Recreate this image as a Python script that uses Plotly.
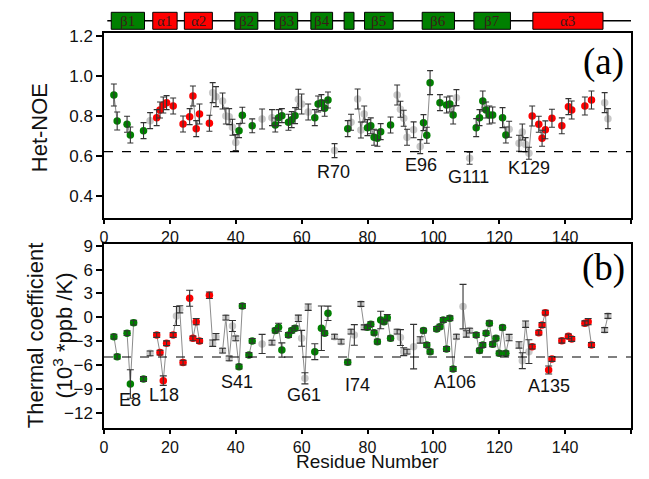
import plotly.graph_objects as go

# ---------------- data ----------------
# panel (a): heteronuclear NOE
noe_res = [3, 4, 7, 8, 12, 14, 16, 17, 18, 19, 21, 24, 26, 27, 28, 29, 32, 33, 34, 36,
           37, 38, 39, 40, 41, 42, 45, 48, 51, 52, 53, 54, 56, 57, 58, 59, 60, 62, 64, 65,
           66, 67, 68, 70, 74, 75, 77, 78, 79, 80, 81, 82, 83, 84, 87, 89, 90, 91, 92, 94,
           96, 97, 98, 99, 102, 104, 105, 106, 107, 111, 113, 114, 115, 116, 117, 118, 121, 122, 123, 126,
           127, 128, 129, 130, 132, 133, 134, 136, 139, 141, 142, 146, 148, 152, 153]
noe_val = [0.903, 0.773, 0.757, 0.703, 0.725, 0.775, 0.790, 0.828, 0.853, 0.865, 0.848, 0.758, 0.795, 0.898, 0.735, 0.808, 0.762, 0.915, 0.895, 0.873,
           0.798, 0.795, 0.742, 0.665, 0.725, 0.802, 0.749, 0.783, 0.790, 0.753, 0.790, 0.800, 0.767, 0.780, 0.800, 0.882, 0.858, 0.818, 0.790, 0.858,
           0.865, 0.837, 0.878, 0.625, 0.735, 0.767, 0.883, 0.728, 0.808, 0.740, 0.749, 0.692, 0.687, 0.720, 0.753, 0.903, 0.832, 0.787, 0.692, 0.729,
           0.645, 0.765, 0.702, 0.965, 0.865, 0.853, 0.858, 0.803, 0.890, 0.587, 0.740, 0.790, 0.873, 0.828, 0.803, 0.803, 0.790, 0.703, 0.732, 0.662,
           0.718, 0.655, 0.612, 0.798, 0.757, 0.687, 0.729, 0.787, 0.749, 0.845, 0.828, 0.848, 0.878, 0.865, 0.785]
noe_err = [0.055, 0.045, 0.040, 0.040, 0.040, 0.040, 0.040, 0.040, 0.040, 0.035, 0.040, 0.040, 0.040, 0.050, 0.040, 0.050, 0.040, 0.050, 0.050, 0.040,
           0.040, 0.040, 0.040, 0.040, 0.035, 0.040, 0.035, 0.050, 0.040, 0.035, 0.040, 0.035, 0.040, 0.040, 0.040, 0.050, 0.050, 0.040, 0.040, 0.040,
           0.040, 0.040, 0.040, 0.035, 0.040, 0.040, 0.050, 0.040, 0.040, 0.040, 0.040, 0.040, 0.040, 0.040, 0.040, 0.050, 0.040, 0.040, 0.040, 0.040,
           0.035, 0.040, 0.040, 0.060, 0.040, 0.040, 0.040, 0.045, 0.040, 0.030, 0.045, 0.040, 0.050, 0.040, 0.045, 0.040, 0.050, 0.040, 0.040, 0.040,
           0.040, 0.035, 0.030, 0.050, 0.040, 0.040, 0.045, 0.045, 0.040, 0.040, 0.045, 0.045, 0.045, 0.050, 0.050]
# b = beta strand (green), a = helix (red), c = other (grey); one letter per point
noe_ss = list("bbbbb" "c" "aaaaaaaaaaa" "ccccccc" "bbb" "cc" "bbbbbb" "ccc" "bbbbb" "c"
              "b" "cccc" "bbbbbb" "cccccc" "bbbbbbb" "cc" "bbbbbbbb" "ccccc"
              "aaaaaaaaaa" "cc")

# panel (b): amide temperature coefficients
tc_res = [3, 4, 7, 8, 9, 12, 14, 16, 17, 18, 19, 21, 22, 23, 24, 26, 27, 28, 29, 32,
          33, 34, 36, 37, 38, 39, 40, 41, 42, 44, 45, 48, 51, 52, 53, 54, 56, 57, 58, 59,
          60, 61, 62, 64, 66, 67, 68, 70, 72, 74, 75, 76, 78, 79, 80, 81, 82, 83, 84, 85,
          86, 87, 89, 90, 91, 92, 94, 96, 97, 98, 99, 101, 102, 103, 104, 105, 106, 107, 109, 110,
          111, 113, 114, 115, 116, 117, 118, 119, 120, 121, 122, 123, 126, 127, 128, 129, 130, 132, 133, 134,
          135, 136, 139, 141, 142, 146, 147, 148, 152, 153]
tc_val = [-2.44, -4.96, -2.00, -8.40, -0.68, -7.77, -4.54, -2.23, -4.45, -7.98, -3.27, -2.23, 0.16, 1.00, -5.71, 2.39, -2.65, -0.55, -2.98, 2.77,
          -3.27, -2.44, -4.20, -0.05, -5.17, -1.10, -2.65, -6.22, 1.42, -4.75, -2.98, -3.36, -3.19, -1.68, -1.26, -4.12, -2.23, -1.68, -1.39, -0.13,
          -2.65, -7.68, 1.26, -4.33, -1.39, -2.00, 0.50, -2.44, -3.07, -5.67, -1.81, -2.23, 1.67, -1.26, -1.26, -0.87, -1.94, -3.07, -0.34, -0.55,
          -0.05, -2.65, -1.81, -2.56, -4.33, -4.33, -3.70, -2.86, -1.68, -3.49, -4.33, -1.47, -1.18, -0.34, -3.99, -0.13, -6.51, -2.44, 1.34, -2.10,
          -1.68, -2.23, -4.20, -3.49, -2.00, -0.76, -3.40, -2.65, -4.54, -1.30, -4.54, -2.56, -3.49, -5.46, -0.88, -4.33, -3.70, -1.94, -0.97, 0.58,
          -6.64, -5.25, -2.95, -2.40, -2.73, -0.76, -0.55, -3.49, -1.60, 0.16]
tc_err = [0.3, 0.3, 0.3, 1.8, 0.3, 0.3, 0.3, 0.3, 0.3, 0.6, 0.3, 0.3, 1.2, 0.45, 0.3, 1.0, 0.3, 0.4, 0.3, 0.4,
          0.4, 0.4, 0.3, 0.3, 0.3, 0.7, 0.3, 0.3, 0.3, 0.3, 0.3, 1.2, 0.3, 0.3, 0.5, 0.9, 0.3, 0.3, 0.3, 0.4,
          1.0, 0.7, 0.4, 1.0, 2.8, 0.3, 0.9, 0.3, 0.3, 0.3, 0.3, 1.3, 0.3, 0.3, 0.3, 0.3, 0.3, 0.3, 1.1, 0.3,
          0.4, 0.3, 0.3, 1.0, 0.5, 0.3, 2.8, 0.4, 0.3, 0.3, 0.3, 0.3, 0.3, 0.3, 0.3, 0.3, 0.3, 0.3, 2.8, 0.4,
          0.3, 0.3, 0.3, 0.3, 0.3, 0.3, 0.3, 0.3, 0.3, 0.3, 0.3, 0.4, 0.4, 1.0, 0.4, 1.5, 0.3, 0.3, 0.3, 0.3,
          0.5, 0.3, 0.3, 0.3, 0.3, 0.3, 0.4, 0.3, 0.3, 0.3]
tc_ss = list("bbbbbb" "c" "aaaaa" "cc" "aaaaaa" "ccccccc" "bbbb" "cc" "bbbbbb" "cccc" "bbbb"
             "cc" "b" "cccc" "bbbbbbbb" "cccccc" "bbbbbbbbb" "cccc" "bbbbbbbbbb" "ccccc"
             "aaaaaaaaaaaa" "cc")

# secondary structure elements (start, end, label, type)
ss_start = [2.2, 14.8, 24.4, 39.7, 51.8, 62.8, 72.9, 79.1, 96.6, 112.3, 130.2]
ss_end = [12.3, 22.2, 32.9, 46.7, 58.8, 69.4, 75.9, 87.8, 106.4, 123.4, 151.5]
ss_label = ["β1", "α1", "α2", "β2", "β3", "β4", "", "β5", "β6", "β7", "α3"]
ss_type = ["b", "a", "a", "b", "b", "b", "b", "b", "b", "b", "a"]

# labelled residues
noe_lab = ["R70", "E96", "G111", "K129"]
noe_lab_x = [69.8, 96.1, 110.8, 129.0]
noe_lab_y = [0.52, 0.553, 0.495, 0.54]
tc_lab = ["E8", "L18", "S41", "G61", "I74", "A106", "A135"]
tc_lab_x = [7.8, 18.3, 40.5, 60.8, 76.9, 106.5, 135.0]
tc_lab_y = [-10.4, -9.8, -8.1, -9.8, -8.5, -8.2, -8.6]

COL = {"b": "#008000", "a": "#ff0000", "c": "#c8c8c8"}
FONT = "Liberation Sans, Arial, sans-serif"
SERIF = "Liberation Serif, Times New Roman, serif"

assert len(noe_ss) == len(noe_res) == len(noe_val) == len(noe_err)
assert len(tc_ss) == len(tc_res) == len(tc_val) == len(tc_err)


def gapped(xs, ys):
    gx, gy = [], []
    for i, (x, y) in enumerate(zip(xs, ys)):
        if i > 0 and x - xs[i - 1] > 1:
            gx.append(None)
            gy.append(None)
        gx.append(x)
        gy.append(y)
    return gx, gy


fig = go.Figure()


def add_panel(res, val, err, ss, xa, ya, cap):
    gx, gy = gapped(res, val)
    fig.add_trace(go.Scatter(x=gx, y=gy, mode="lines", xaxis=xa, yaxis=ya,
                             line=dict(color="#8c8c8c", width=1), connectgaps=False,
                             hoverinfo="skip"))
    for k in ["c", "b", "a"]:
        xs = [r for r, s in zip(res, ss) if s == k]
        ys = [v for v, s in zip(val, ss) if s == k]
        fig.add_trace(go.Scatter(x=xs, y=ys, mode="markers", xaxis=xa, yaxis=ya,
                                 marker=dict(color=COL[k], size=7.5, line=dict(width=0))))
    fig.add_trace(go.Scatter(x=res, y=val, mode="markers", xaxis=xa, yaxis=ya,
                             marker=dict(color="rgba(0,0,0,0)", size=1),
                             error_y=dict(type="data", array=err, visible=True,
                                          color="#333333", thickness=1.1, width=cap)))


add_panel(noe_res, noe_val, noe_err, noe_ss, "x", "y", 3)
add_panel(tc_res, tc_val, tc_err, tc_ss, "x2", "y2", 3.5)

axis_common = dict(showline=True, linecolor="black", linewidth=1.5, mirror=True,
                   ticks="outside", ticklen=6, tickwidth=1.5, tickcolor="black",
                   showgrid=False, zeroline=False,
                   tickfont=dict(family=FONT, size=17, color="#111111"))
xfont = dict(family=FONT, size=16, color="#111111")
xt = list(range(0, 161, 20))

# the page body adds an 8px margin, so the figure is sized to fit inside the window
fig.update_layout(
    width=633, height=463,
    margin=dict(l=96, r=8, t=25, b=43),
    plot_bgcolor="white", paper_bgcolor="white",
    showlegend=False,
    xaxis=dict(axis_common, domain=[0, 1], anchor="y", range=[0, 160], tickvals=xt,
               ticklen=4, tickfont=xfont),
    yaxis=dict(axis_common, domain=[0.532, 1], anchor="x", range=[0.2885, 1.2135],
               tickvals=[0.4, 0.6, 0.8, 1.0, 1.2], tickformat=".1f"),
    xaxis2=dict(axis_common, domain=[0, 1], anchor="y2", range=[0, 160], tickvals=xt,
                ticklen=4, tickfont=xfont),
    yaxis2=dict(axis_common, domain=[0, 0.466], anchor="x2", range=[-13.94, 9.23],
                tickvals=[-12, -9, -6, -3, 0, 3, 6, 9]),
)

shapes = [
    dict(type="line", xref="x", yref="y", x0=0, x1=160, y0=0.62, y1=0.62,
         line=dict(color="black", width=1.2, dash="dash")),
    dict(type="line", xref="x2", yref="y2", x0=0, x1=160, y0=-5, y1=-5,
         line=dict(color="black", width=1.2, dash="dash")),
    dict(type="line", xref="x", yref="paper", x0=1, x1=160, y0=1.0311, y1=1.0311,
         line=dict(color="black", width=1.5)),
]
annotations = []
for s, e, lab, t in zip(ss_start, ss_end, ss_label, ss_type):
    shapes.append(dict(type="rect", xref="x", yref="paper", x0=s, x1=e, y0=1.0094, y1=1.0524,
                       fillcolor=COL[t], line=dict(color="black", width=1)))
    if lab:
        annotations.append(dict(x=(s + e) / 2, y=1.031, xref="x", yref="paper", text=lab,
                                showarrow=False, font=dict(family=SERIF, size=15, color="#3a1a1a"),
                                xanchor="center", yanchor="middle"))

for lab, x, y in zip(noe_lab, noe_lab_x, noe_lab_y):
    annotations.append(dict(x=x, y=y, xref="x", yref="y", text=lab, showarrow=False,
                            xanchor="center", yanchor="middle",
                            font=dict(family=FONT, size=18, color="#111111")))
for lab, x, y in zip(tc_lab, tc_lab_x, tc_lab_y):
    annotations.append(dict(x=x, y=y, xref="x2", yref="y2", text=lab, showarrow=False,
                            xanchor="center", yanchor="middle",
                            font=dict(family=FONT, size=18, color="#111111")))

annotations += [
    dict(x=151.8, y=1.07, xref="x", yref="y", text="(a)", showarrow=False,
         xanchor="center", yanchor="middle",
         font=dict(family=SERIF, size=37, color="black")),
    dict(x=151.8, y=6.2, xref="x2", yref="y2", text="(b)", showarrow=False,
         xanchor="center", yanchor="middle",
         font=dict(family=SERIF, size=37, color="black")),
    dict(x=-0.121, y=0.7595, xref="paper", yref="paper", text="Het-NOE", showarrow=False,
         xanchor="center", yanchor="middle",
         textangle=-90, font=dict(family=FONT, size=22, color="#111111")),
    dict(x=-0.102, y=0.233, xref="paper", yref="paper",
         text="Thermal coefficient<br>(10<sup>3</sup> *ppb /K)", showarrow=False,
         xanchor="center", yanchor="middle",
         textangle=-90, font=dict(family=FONT, size=22, color="#111111")),
    dict(x=0.5, y=-0.086, xref="paper", yref="paper", text="Residue Number", showarrow=False,
         xanchor="center", yanchor="middle",
         font=dict(family=FONT, size=19, color="#111111")),
]
fig.update_layout(shapes=shapes, annotations=annotations)

fig.write_html("out.html", config={"displayModeBar": False})
